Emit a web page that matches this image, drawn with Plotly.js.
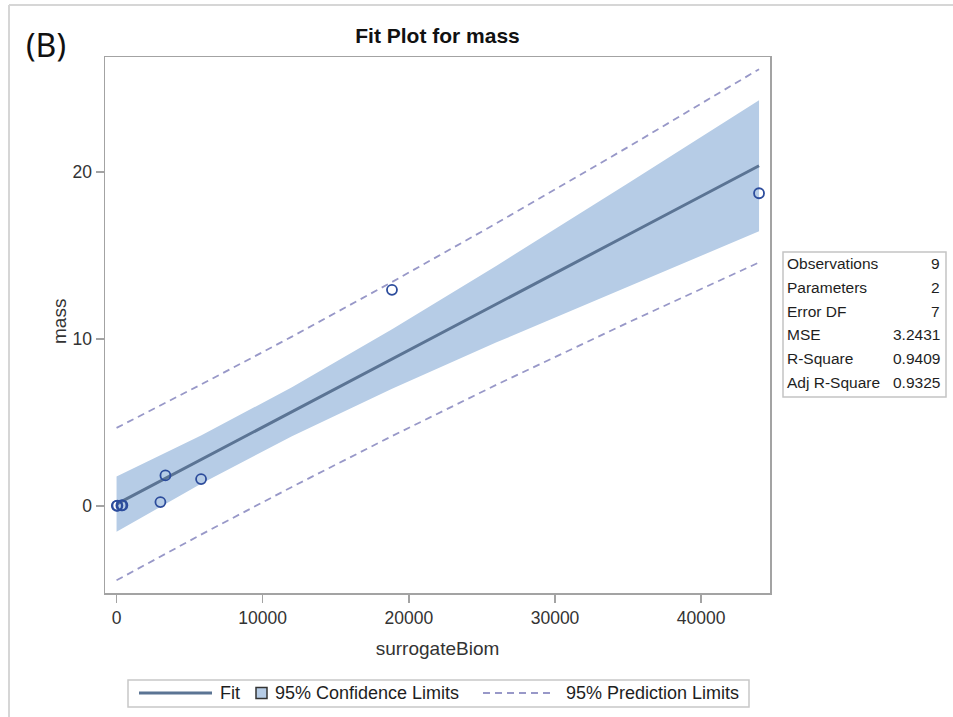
<!DOCTYPE html>
<html>
<head>
<meta charset="utf-8">
<script src="https://cdn.plot.ly/plotly-3.0.1.min.js"></script>
<style>
  html, body { margin: 0; padding: 0; background: #ffffff; }
  #chart { width: 953px; height: 717px; }
</style>
</head>
<body>
<div id="chart"></div>
<script>
// Observations: surrogateBiom vs mass
const obsX = [20, 60, 330, 400, 3002, 3344, 5784, 18845, 43960];
const obsY = [0, 0.01, 0.02, 0.03, 0.22, 1.82, 1.60, 12.95, 18.74];

// Fitted line with 95% confidence and prediction limits along surrogateBiom
const bandX   = [0, 3000, 5780, 12000, 18850, 26000, 35000, 43960];
const fitY    = [0.10, 1.49, 2.77, 5.64, 8.80, 12.10, 16.25, 20.39];
const clmLow  = [-1.56, -0.04, 1.32, 4.17, 7.02, 9.80, 13.16, 16.46];
const clmHigh = [1.76, 3.01, 4.21, 7.11, 10.58, 14.40, 19.34, 24.32];
const pliLow  = [-4.47, -3.04, -1.73, 1.13, 4.18, 7.26, 10.99, 14.59];
const pliHigh = [4.67, 6.01, 7.27, 10.14, 13.42, 16.94, 21.51, 26.18];

// Axis ticks
const xTicks = [0, 10000, 20000, 30000, 40000];
const yTicks = [0, 10, 20];

// Fit statistics table
const statLabels = ['Observations', 'Parameters', 'Error DF', 'MSE', 'R-Square', 'Adj R-Square'];
const statValues = ['9', '2', '7', '3.2431', '0.9409', '0.9325'];

// Legend entries
const legendLabels = ['Fit', '95% Confidence Limits', '95% Prediction Limits'];

const W = 953, H = 717;
const M = { l: 105, r: 183, t: 57, b: 124 };
const PW = W - M.l - M.r, PH = H - M.t - M.b;
const px = x => (x - M.l) / PW;
const py = y => (H - M.b - y) / PH;

const FONT = 'Liberation Sans, Arial, sans-serif';
const bandFill = '#b6cce6';
const fitColor = '#5b7494';
const predColor = '#9898c8';
const markColor = '#2c4c9c';
const frameGray = '#a3a3a3';

const traces = [
  { x: bandX, y: clmLow, type: 'scatter', mode: 'lines',
    line: { width: 0, color: bandFill }, hoverinfo: 'skip', showlegend: false },
  { x: bandX, y: clmHigh, type: 'scatter', mode: 'lines', fill: 'tonexty',
    fillcolor: bandFill, line: { width: 0, color: bandFill }, showlegend: false },
  { x: bandX, y: pliLow, type: 'scatter', mode: 'lines',
    line: { width: 1.8, color: predColor, dash: '7px,5px' }, showlegend: false },
  { x: bandX, y: pliHigh, type: 'scatter', mode: 'lines',
    line: { width: 1.8, color: predColor, dash: '7px,5px' }, showlegend: false },
  { x: bandX, y: fitY, type: 'scatter', mode: 'lines',
    line: { width: 3, color: fitColor }, showlegend: false },
  { x: obsX, y: obsY, type: 'scatter', mode: 'markers',
    marker: { symbol: 'circle-open', size: 10, color: markColor, line: { width: 1.8 } },
    showlegend: false }
];

const shapes = [];
const annotations = [];

// outer frame edges
shapes.push({ type: 'line', xref: 'paper', yref: 'paper',
  x0: px(9), x1: px(953), y0: py(5), y1: py(5), line: { color: '#d6d6d6', width: 2 } });
shapes.push({ type: 'line', xref: 'paper', yref: 'paper',
  x0: px(9), x1: px(9), y0: py(5), y1: py(717), line: { color: '#d6d6d6', width: 2 } });

// panel label
annotations.push({ xref: 'paper', yref: 'paper', x: px(24), y: py(44),
  xanchor: 'left', yanchor: 'middle', showarrow: false, text: '(B)',
  font: { family: 'Noto Sans, Open Sans, sans-serif', size: 32, color: '#111111' } });

// y axis label
annotations.push({ xref: 'paper', yref: 'paper', x: px(59), y: py(322),
  xanchor: 'center', yanchor: 'middle', showarrow: false, text: 'mass', textangle: -90,
  font: { family: FONT, size: 19, color: '#333333' } });

// statistics box
shapes.push({ type: 'rect', xref: 'paper', yref: 'paper',
  x0: px(783), x1: px(946), y0: py(397), y1: py(252),
  line: { color: '#c4c4c4', width: 1.5 }, fillcolor: 'rgba(0,0,0,0)' });
statLabels.forEach((lab, i) => {
  const yy = 263.5 + i * 23.8;
  annotations.push({ xref: 'paper', yref: 'paper', x: px(785), y: py(yy),
    xanchor: 'left', yanchor: 'middle', showarrow: false, text: lab,
    font: { family: FONT, size: 15.5, color: '#1e1e1e' } });
  annotations.push({ xref: 'paper', yref: 'paper', x: px(942), y: py(yy),
    xanchor: 'right', yanchor: 'middle', showarrow: false, text: statValues[i],
    font: { family: FONT, size: 15.5, color: '#1e1e1e' } });
});

// legend box
const LY = 693;
shapes.push({ type: 'rect', xref: 'paper', yref: 'paper',
  x0: px(128), x1: px(749), y0: py(707), y1: py(680),
  line: { color: '#c8c8c8', width: 1.5 }, fillcolor: 'rgba(0,0,0,0)' });
shapes.push({ type: 'line', xref: 'paper', yref: 'paper',
  x0: px(139), x1: px(212), y0: py(LY), y1: py(LY), line: { color: fitColor, width: 3 } });
shapes.push({ type: 'rect', xref: 'paper', yref: 'paper',
  x0: px(256), x1: px(267), y0: py(LY + 5.5), y1: py(LY - 5.5),
  line: { color: '#333333', width: 1.5 }, fillcolor: bandFill });
shapes.push({ type: 'line', xref: 'paper', yref: 'paper',
  x0: px(483), x1: px(551), y0: py(LY), y1: py(LY),
  line: { color: predColor, width: 1.8, dash: '7px,5px' } });
[[218, 0], [273, 1], [564, 2]].forEach(([xx, k]) => {
  annotations.push({ xref: 'paper', yref: 'paper', x: px(xx), y: py(LY),
    xanchor: 'left', yanchor: 'middle', showarrow: false, text: legendLabels[k],
    font: { family: FONT, size: 18, color: '#1e1e1e' } });
});

const axisCommon = {
  showline: true, mirror: true, linecolor: frameGray, linewidth: 1.5,
  ticks: 'outside', ticklen: 8, tickwidth: 1.5, tickcolor: frameGray,
  showgrid: false, zeroline: false, automargin: false,
  tickfont: { family: FONT, size: 17.5, color: '#333333' },
  tickformat: 'd', exponentformat: 'none'
};

const layout = {
  width: W, height: H,
  margin: { l: M.l, r: M.r, t: M.t, b: M.b, pad: 0 },
  paper_bgcolor: '#ffffff', plot_bgcolor: '#ffffff',
  showlegend: false,
  title: { text: '<b>Fit Plot for mass</b>', xref: 'paper', x: 0.5, xanchor: 'center',
    yref: 'container', y: 1 - 36 / H, yanchor: 'middle',
    font: { family: FONT, size: 21, color: '#111111' } },
  xaxis: Object.assign({}, axisCommon, {
    range: [-790, 44710], tickvals: xTicks,
    title: { text: 'surrogateBiom', standoff: 15, font: { family: FONT, size: 19, color: '#333333' } }
  }),
  yaxis: Object.assign({}, axisCommon, {
    range: [-5.23, 26.91], tickvals: yTicks
  }),
  shapes: shapes,
  annotations: annotations
};

Plotly.newPlot('chart', traces, layout, { displayModeBar: false, staticPlot: true });
</script>
</body>
</html>
